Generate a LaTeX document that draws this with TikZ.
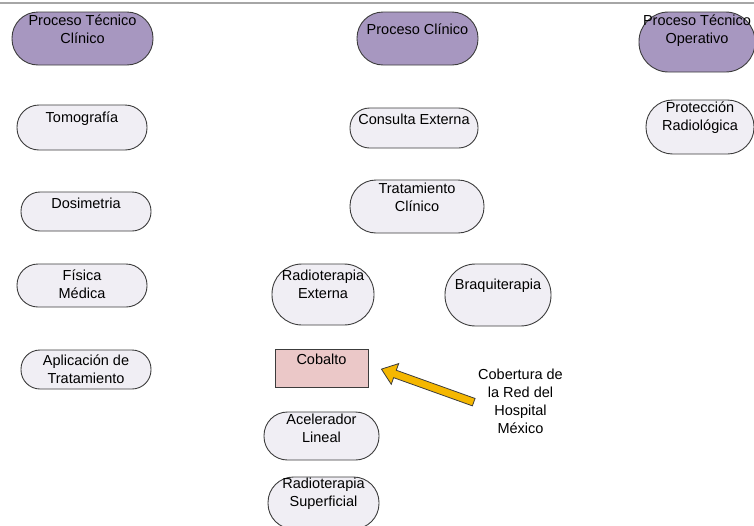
\documentclass[tikz,border=0pt]{standalone}
\usepackage{fontspec}
\setmainfont{Liberation Sans}
\usetikzlibrary{shapes.arrows,calc}
\definecolor{procfill}{HTML}{A797C0}
\definecolor{subfill}{HTML}{F0EEF4}
\definecolor{cobfill}{HTML}{EBC8C8}
\definecolor{edgegray}{HTML}{3C3C3C}
\definecolor{arrowfill}{HTML}{F5B700}
\tikzset{
  boxtext/.style={font=\fontsize{14.5}{18}\selectfont, align=center, inner sep=0pt},
  pill/.style 2 args={draw=edgegray, line width=0.9pt, minimum width=#1, minimum height=#2, rounded corners=#2/2-0.5pt, inner sep=0pt},
  procpill/.style 2 args={pill={#1}{#2}, fill=procfill},
  subpill/.style 2 args={pill={#1}{#2}, fill=subfill},
}

\begin{document}
\begin{tikzpicture}[x=1pt, y=-1pt]
\useasboundingbox (0,0) rectangle (754,525);
\draw[line width=1.5pt, draw=black!35] (0,3) -- (754,3);
% main processes
\node[procpill={141}{53}, label={[boxtext, anchor=center, yshift=-18pt]north:Proceso Técnico\\Clínico}] (tecclin) at (82.5,38.5) {};
\node[procpill={121}{53}, label={[boxtext, anchor=center, yshift=-17.5pt]north:Proceso Clínico}] (clin) at (417.5,38.5) {};
\node[procpill={116}{60}, label={[boxtext, anchor=center, yshift=-19pt]north:Proceso Técnico\\Operativo}] (tecop) at (697,42) {};
% left column
\node[subpill={130}{45}, label={[boxtext, anchor=center, yshift=-14.5pt]north:Tomografía}] (tomo) at (82,127.5) {};
\node[subpill={130}{39}, label={[boxtext, anchor=center, yshift=-11.5pt]north:Dosimetria}] (dosi) at (86,211.5) {};
\node[subpill={130}{43}, label={[boxtext, anchor=center, yshift=-21pt]north:Física\\Médica}] (fisica) at (82,285.5) {};
\node[subpill={130}{39}, label={[boxtext, anchor=center, yshift=-20pt]north:Aplicación de\\Tratamiento}] (aplic) at (86,369.5) {};
% middle column
\node[subpill={128}{40}, label={[boxtext, anchor=center, yshift=-11.5pt]north:Consulta Externa}] (consulta) at (414,128) {};
\node[subpill={134}{53}, label={[boxtext, anchor=center, yshift=-18pt]north:Tratamiento\\Clínico}] (tratam) at (417,206.5) {};
\node[subpill={102}{61}, label={[boxtext, anchor=center, yshift=-21pt]north:Radioterapia\\Externa}] (radext) at (323,294.5) {};
\node[subpill={106}{62}, label={[boxtext, anchor=center, yshift=-22.5pt]north:Braquiterapia}] (braqui) at (498,295) {};
\node[draw=edgegray, line width=0.9pt, fill=cobfill, minimum width=93, minimum height=38, inner sep=0pt, label={[boxtext, anchor=center, yshift=-10.5pt]north:Cobalto}] (cobalto) at (321.5,368) {};
\node[subpill={115}{48}, label={[boxtext, anchor=center, yshift=-16.5pt]north:Acelerador\\Lineal}] (acel) at (321.5,436) {};
\node[subpill={111}{52}, label={[boxtext, anchor=center, yshift=-17.5pt]north:Radioterapia\\Superficial}] (radsup) at (323.5,503) {};
% right column
\node[subpill={108}{54}, label={[boxtext, anchor=center, yshift=-18pt]north:Protección\\Radiológica}] (proteccion) at (700,127) {};
% coverage note
\node[boxtext] (cobertura) at (520.5,401.5) {Cobertura de\\la Red del\\Hospital\\México};
\coordinate (tailpt) at (476,403);
\coordinate (tippt) at (384,370);
\node[single arrow, draw=edgegray, line width=0.8pt, fill=arrowfill, inner sep=3.5pt, minimum width=22, single arrow head extend=7pt, single arrow tip angle=75, minimum height=98, rotate=160.3] (pointer) at ($(tailpt)!0.5!(tippt)$) {};
\end{tikzpicture}
\end{document}
